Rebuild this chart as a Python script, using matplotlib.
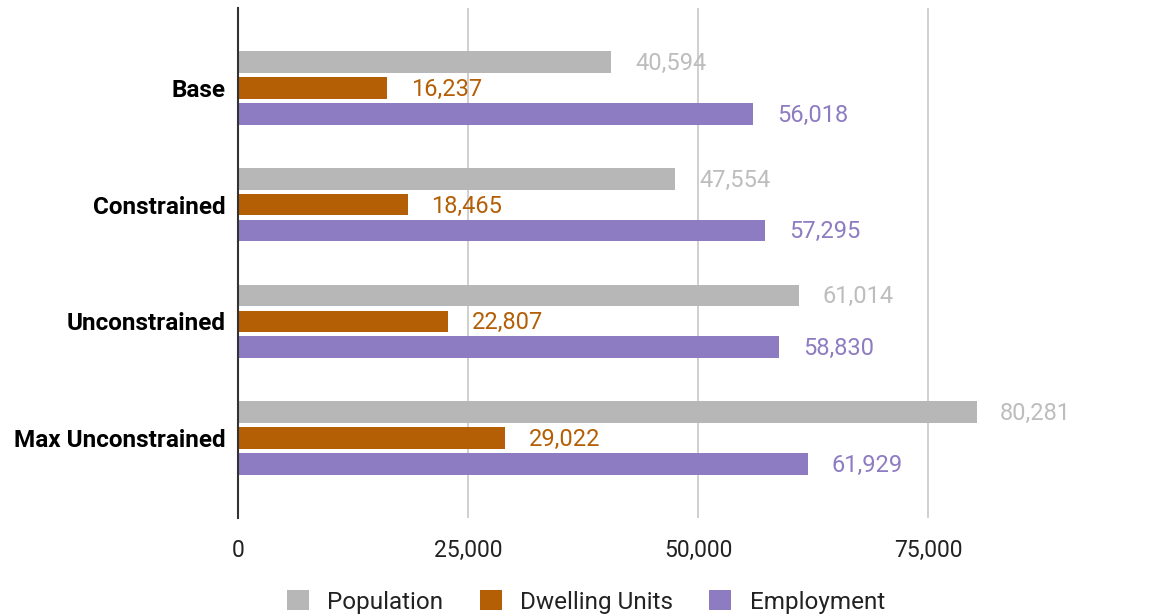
import numpy as np
import matplotlib
matplotlib.use('Agg')
import matplotlib.pyplot as plt

plt.rcParams['font.family'] = ['Roboto', 'DejaVu Sans']

scenarios = ['Base', 'Constrained', 'Unconstrained', 'Max Unconstrained']
population = [40594, 47554, 61014, 80281]
dwelling_units = [16237, 18465, 22807, 29022]
employment = [56018, 57295, 58830, 61929]

series = [('Population', population, '#b7b7b7', '#bdbdbd'),
          ('Dwelling Units', dwelling_units, '#b45f06', '#b45f06'),
          ('Employment', employment, '#8e7cc3', '#8e7cc3')]

fig = plt.figure(figsize=(11.49, 6.16), dpi=100)
ax = fig.add_axes([238/1149, 1 - 518/616, 920/1149, 510/616])

y = np.arange(len(scenarios))
pitch = 0.222   # distance between bars in a group
height = 0.185

for i, (name, vals, color, txt_color) in enumerate(series):
    pos = y + (i - 1) * pitch
    bars = ax.barh(pos, vals, height, color=color, label=name, zorder=3)
    for rect, v in zip(bars, vals):
        ax.annotate('{:,}'.format(v),
                    xy=(rect.get_width(), rect.get_y() + rect.get_height() / 2),
                    xytext=(17, -1), textcoords='offset points',
                    ha='left', va='center', fontsize=17, color=txt_color)

ax.set_xlim(0, 100000)
ax.set_ylim(len(scenarios) - 1 + 0.684, -0.684)
ax.set_xticks([0, 25000, 50000, 75000])
ax.set_xticklabels(['0', '25,000', '50,000', '75,000'], fontsize=16.5, color='#222222')
ax.set_yticks(y)
ax.set_yticklabels(scenarios, fontsize=17.5, fontweight='bold', color='#000000')
ax.tick_params(axis='both', length=0)
ax.tick_params(axis='x', pad=15)
ax.tick_params(axis='y', pad=9)

ax.grid(axis='x', color='#cccccc', linewidth=1.3, zorder=0)
ax.xaxis.get_gridlines()[0].set_visible(False)
for side in ['top', 'right', 'bottom']:
    ax.spines[side].set_visible(False)
ax.spines['left'].set_color('#333333')
ax.spines['left'].set_linewidth(1.5)
ax.spines['left'].set_zorder(4)

fig.legend(loc='center', bbox_to_anchor=(586/1149, 1 - 602/616), ncol=3,
           frameon=False, fontsize=17.5, handlelength=0.9, handleheight=0.9,
           handletextpad=0.75, columnspacing=1.5, labelcolor='#222222')

fig.savefig('out.png', dpi=100)
